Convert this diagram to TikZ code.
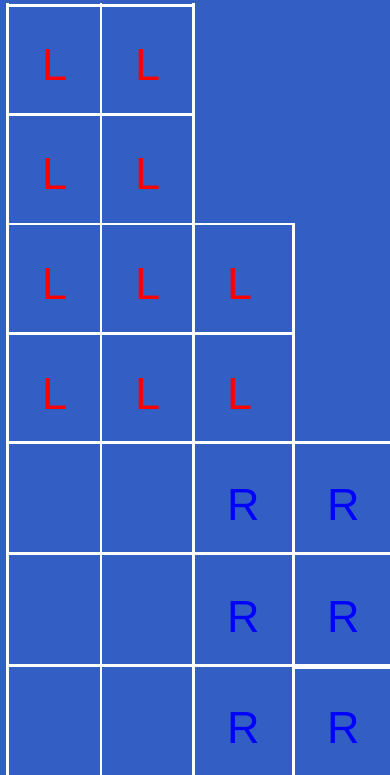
\documentclass[tikz,border=0pt]{standalone}
\usepackage{fontspec}
\setmainfont{Liberation Sans}
\definecolor{bgblue}{RGB}{51,94,196}
\definecolor{lred}{RGB}{255,0,0}
\definecolor{rblue}{RGB}{0,0,255}
\tikzset{
  gridline/.style={draw=white, line width=2.8pt},
  lmark/.style={anchor=base, inner sep=0pt, text=lred, font=\fontsize{45}{45}\selectfont},
  rmark/.style={anchor=base, inner sep=0pt, text=rblue, font=\fontsize{45}{45}\selectfont}
}
\begin{document}
\begin{tikzpicture}[x=1pt,y=-1pt]
\fill[bgblue] (0,0) rectangle (390,775);
\useasboundingbox (0,0) rectangle (390,775);
\clip (0,0) rectangle (390,775);
% horizontal lines
\draw[gridline] (7.2,5.3) -- (193.7,5.3);
\draw[gridline] (7.2,114.7) -- (193.7,114.7);
\draw[gridline] (7.2,224) -- (293.6,224);
\draw[gridline] (7.2,333.3) -- (293.6,333.3);
\draw[gridline] (7.2,442.3) -- (392,442.3);
\draw[gridline] (7.2,553.7) -- (392,553.7);
\draw[gridline] (7.2,665.3) -- (293.6,665.3);
\draw[draw=white, line width=5pt] (293.6,666.6) -- (392,666.6);
% vertical lines
\draw[gridline] (7.2,3) -- (7.2,776);
\draw[gridline] (101,3) -- (101,776);
\draw[gridline] (193.7,3) -- (193.7,776);
\draw[gridline] (293.6,222.6) -- (293.6,776);
% L labels
\node[lmark] (l11) at (55,81) {L};
\node[lmark] (l12) at (148,81) {L};
\node[lmark] (l21) at (55,190) {L};
\node[lmark] (l22) at (148,190) {L};
\node[lmark] (l31) at (55,299.5) {L};
\node[lmark] (l32) at (148,299.5) {L};
\node[lmark] (l33) at (240,299.5) {L};
\node[lmark] (l41) at (55,409) {L};
\node[lmark] (l42) at (148,409) {L};
\node[lmark] (l43) at (240,409) {L};
% R labels
\node[rmark] (r53) at (243.5,520) {R};
\node[rmark] (r54) at (343.7,520) {R};
\node[rmark] (r63) at (243.5,632) {R};
\node[rmark] (r64) at (343.7,632) {R};
\node[rmark] (r73) at (243.5,743) {R};
\node[rmark] (r74) at (343.7,743) {R};
\end{tikzpicture}
\end{document}
